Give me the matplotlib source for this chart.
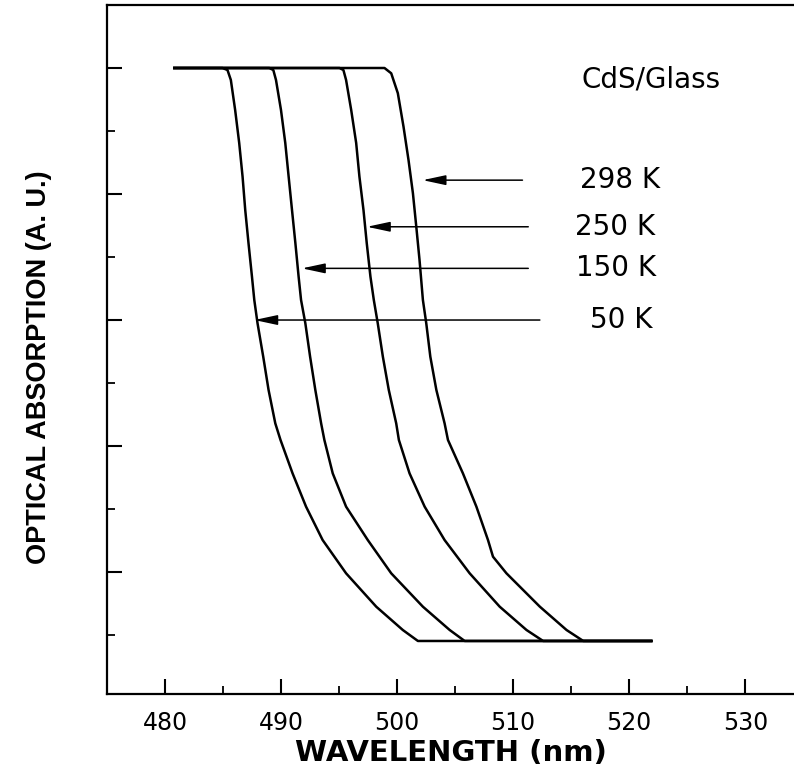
import numpy as np
import matplotlib.pyplot as plt
from matplotlib.ticker import MultipleLocator, NullFormatter

# absorption edges (wavelength in nm, absorption in a.u.)
x_50 = [480.8, 484.95, 485.38, 485.67, 486.04, 486.39, 486.68, 486.91, 487.19, 487.49,
        487.69, 487.97, 488.46, 488.92, 489.5, 489.95, 490.99, 492.15, 493.58, 495.6,
        498.2, 500.49, 501.79, 521.9]
y_50 = [5.0, 5.0, 4.984, 4.905, 4.667, 4.405, 4.138, 3.873, 3.611, 3.344,
        3.159, 2.974, 2.709, 2.445, 2.18, 2.048, 1.783, 1.519, 1.254, 0.99,
        0.725, 0.54, 0.453, 0.453]

x_150 = [480.8, 488.98, 489.33, 489.56, 489.99, 490.36, 490.65, 490.94, 491.23, 491.51,
         491.72, 492.09, 492.5, 492.95, 493.45, 493.73, 494.45, 495.6, 497.47, 499.49,
         502.22, 504.53, 505.82, 521.9]
y_150 = [5.0, 5.0, 4.984, 4.905, 4.667, 4.405, 4.138, 3.873, 3.611, 3.344,
         3.159, 2.974, 2.709, 2.445, 2.18, 2.048, 1.783, 1.519, 1.254, 0.99,
         0.725, 0.54, 0.453, 0.453]

x_250 = [480.8, 495.03, 495.37, 495.6, 496.04, 496.47, 496.75, 497.1, 497.38, 497.7,
         497.99, 498.33, 498.77, 499.28, 499.92, 500.15, 501.07, 502.37, 504.09, 506.25,
         508.84, 511.15, 512.58, 521.9]
y_250 = [5.0, 5.0, 4.984, 4.905, 4.667, 4.405, 4.138, 3.873, 3.611, 3.344,
         3.159, 2.974, 2.709, 2.445, 2.18, 2.048, 1.783, 1.519, 1.254, 0.99,
         0.725, 0.54, 0.453, 0.453]

x_298 = [480.8, 498.91, 499.49, 500.06, 500.55, 500.98, 501.36, 501.65, 501.93, 502.22,
         502.51, 502.86, 503.38, 504.09, 504.38, 505.67, 506.83, 507.83,
         508.26, 509.42, 512.3, 514.6, 516.04, 521.9]
y_298 = [5.0, 5.0, 4.958, 4.80, 4.534, 4.27, 4.006, 3.741, 3.476, 3.159,
         2.974, 2.709, 2.445, 2.18, 2.048, 1.783, 1.519, 1.254,
         1.122, 0.99, 0.725, 0.54, 0.453, 0.453]

# arrows: label, label x, y level, arrow tail x, arrow head x
labels = ['298 K', '250 K', '150 K', '50 K']
label_x = [519.2, 518.8, 518.9, 519.3]
arrow_y = [4.11, 3.74, 3.41, 3.0]
tail_x = [510.8, 511.3, 511.3, 512.3]
head_x = [502.2, 497.4, 491.8, 487.7]

fig = plt.figure(figsize=(7.94, 7.69), dpi=100)
ax = fig.add_axes([0.1348, 0.0975, 0.8652, 0.896])

for xs, ys in [(x_50, y_50), (x_150, y_150), (x_250, y_250), (x_298, y_298)]:
    ax.plot(xs, ys, color='black', lw=1.8)

for lab, lx, ay, tx, hx in zip(labels, label_x, arrow_y, tail_x, head_x):
    ax.annotate('', xy=(hx, ay), xytext=(tx, ay),
                arrowprops=dict(arrowstyle='-|>,head_length=0.7,head_width=0.15',
                                color='black', lw=1.1, shrinkA=0, shrinkB=0,
                                mutation_scale=20))
    ax.text(lx, ay, lab, ha='center', va='center', fontsize=20, color='black')

ax.text(521.9, 4.905, 'CdS/Glass', ha='center', va='center', fontsize=20, color='black')

ax.set_xlim(475, 534.2)
ax.set_ylim(0.032, 5.5)

ax.xaxis.set_major_locator(MultipleLocator(10))
ax.xaxis.set_minor_locator(MultipleLocator(5))
ax.yaxis.set_major_locator(MultipleLocator(1))
ax.yaxis.set_minor_locator(MultipleLocator(0.5))
ax.yaxis.set_major_formatter(NullFormatter())

ax.tick_params(axis='both', which='major', direction='in', length=11, width=1.5)
ax.tick_params(axis='both', which='minor', direction='in', length=6, width=1.3)
ax.tick_params(axis='x', which='major', labelsize=17, pad=12)
ax.tick_params(axis='y', which='both', labelleft=False)

for s in ['left', 'bottom', 'top']:
    ax.spines[s].set_linewidth(1.6)
ax.spines['right'].set_visible(False)

ax.set_xlabel('WAVELENGTH (nm)', fontsize=21, fontweight='bold', labelpad=3)
ax.set_ylabel('OPTICAL ABSORPTION (A. U.)', fontsize=19.5, fontweight='bold',
              family=['Liberation Sans', 'DejaVu Sans'])
ax.yaxis.set_label_coords(-0.08, 0.475)

fig.savefig('out.png', dpi=100)
